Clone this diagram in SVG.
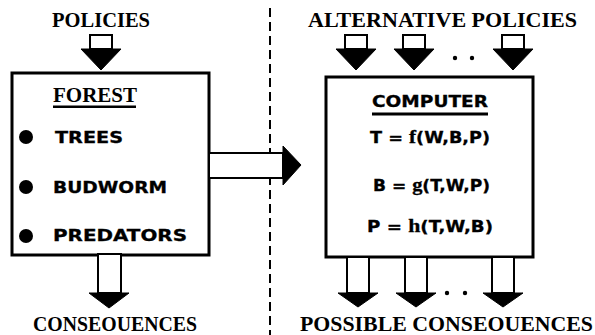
<svg xmlns="http://www.w3.org/2000/svg" width="595" height="335" viewBox="0 0 595 335">
  <style>
    .title { font-family: "Liberation Serif", "Times New Roman", serif; font-weight: bold; font-size: 21px; fill: #000; }
    .item { font-family: "DejaVu Sans", "Liberation Sans", sans-serif; font-weight: bold; font-size: 15px; fill: #000; stroke: #000; stroke-width: 0.3; }
    .fn { font-family: "Liberation Serif", "Times New Roman", serif; font-weight: bold; font-size: 18px; }
    .box { fill: #fff; stroke: #000; stroke-width: 3; }
    .stem { fill: #fff; stroke: #000; stroke-width: 2; }
    .head { fill: #000; stroke: #000; stroke-width: 1; stroke-linejoin: round; }
    .divider { stroke: #000; stroke-width: 2; stroke-dasharray: 9 5; fill: none; }
  </style>
  <defs>
    <!-- block down-arrow, tip at origin -->
    <g id="downArrow">
      <rect class="stem" x="-11" y="-35" width="22" height="14"/>
      <polygon class="head" points="-20,-21 20,-21 0,0"/>
    </g>
  </defs>

  <rect width="595" height="335" fill="#fff"/>

  <!-- dashed divider between real system and model -->
  <line class="divider" x1="270" y1="8" x2="270" y2="335"/>

  <g id="policies">
    <text class="title" x="101" y="27" text-anchor="middle" textLength="98" lengthAdjust="spacingAndGlyphs">POLICIES</text>
  </g>

  <g id="alternative-policies">
    <text class="title" x="308" y="27" textLength="269" lengthAdjust="spacingAndGlyphs">ALTERNATIVE POLICIES</text>
  </g>

  <g id="forest">
    <rect class="box" x="12" y="73" width="197" height="182"/>
    <text class="title" x="53" y="102" textLength="84" lengthAdjust="spacingAndGlyphs">FOREST</text>
    <rect x="53" y="105.5" width="83" height="2.5" fill="#000"/>
    <circle cx="26" cy="137" r="7" fill="#000"/>
    <text class="item" x="55" y="143" textLength="68" lengthAdjust="spacingAndGlyphs">TREES</text>
    <circle cx="26" cy="187" r="7" fill="#000"/>
    <text class="item" x="53" y="193" textLength="114" lengthAdjust="spacingAndGlyphs">BUDWORM</text>
    <circle cx="26" cy="236" r="7" fill="#000"/>
    <text class="item" x="53" y="241" textLength="134" lengthAdjust="spacingAndGlyphs">PREDATORS</text>
  </g>

  <g id="computer">
    <rect class="box" x="326" y="77" width="207" height="180"/>
    <text class="item" x="372" y="107" font-size="16" textLength="116" lengthAdjust="spacingAndGlyphs">COMPUTER</text>
    <rect x="372" y="112.5" width="116" height="3" fill="#000"/>
    <text class="item" x="370" y="143" textLength="120" lengthAdjust="spacingAndGlyphs">T = <tspan class="fn">f</tspan>(W,B,P)</text>
    <text class="item" x="373" y="191" textLength="117" lengthAdjust="spacingAndGlyphs">B = <tspan class="fn">g</tspan>(T,W,P)</text>
    <text class="item" x="367" y="232" textLength="126" lengthAdjust="spacingAndGlyphs">P = <tspan class="fn">h</tspan>(T,W,B)</text>
  </g>

  <g id="consequences">
    <text class="title" x="33" y="331" textLength="164" lengthAdjust="spacingAndGlyphs">CONSEOUENCES</text>
  </g>

  <g id="possible-consequences">
    <text class="title" x="300" y="331" textLength="293" lengthAdjust="spacingAndGlyphs">POSSIBLE CONSEOUENCES</text>
  </g>

  <g id="connectors">
    <!-- policy into forest -->
    <use href="#downArrow" x="101" y="70"/>
    <!-- alternative policies into computer -->
    <use href="#downArrow" x="356" y="70"/>
    <use href="#downArrow" x="414" y="70"/>
    <circle cx="455" cy="58" r="2.2" fill="#000"/>
    <circle cx="472" cy="58" r="2.2" fill="#000"/>
    <use href="#downArrow" x="513" y="70"/>
    <!-- forest out to consequences -->
    <g>
      <rect class="stem" x="98" y="254" width="23" height="39"/>
      <polygon class="head" points="89,293 129,293 109,308"/>
    </g>
    <!-- computer out to possible consequences -->
    <g>
      <rect class="stem" x="347" y="257" width="22" height="36"/>
      <polygon class="head" points="338,293 378,293 358,307"/>
    </g>
    <g>
      <rect class="stem" x="405" y="257" width="22" height="36"/>
      <polygon class="head" points="396,293 436,293 416,307"/>
    </g>
    <circle cx="447" cy="293" r="2.2" fill="#000"/>
    <circle cx="465" cy="293" r="2.2" fill="#000"/>
    <g>
      <rect class="stem" x="492" y="257" width="22" height="36"/>
      <polygon class="head" points="483,293 523,293 503,307"/>
    </g>
    <!-- forest to computer (model building) -->
    <g>
      <rect class="stem" x="209" y="153" width="74" height="25"/>
      <polygon class="head" points="283,146 301,165 283,185"/>
    </g>
  </g>
</svg>
